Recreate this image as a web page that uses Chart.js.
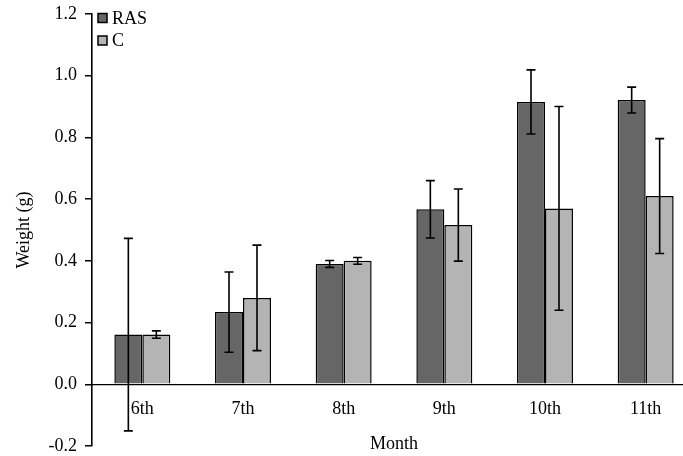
<!DOCTYPE html>
<html>
<head>
<meta charset="utf-8">
<script src="https://cdn.jsdelivr.net/npm/chart.js@4"></script>
<style>
  html, body { margin: 0; padding: 0; background: #ffffff; overflow: hidden; }
  #wrap { width: 720px; height: 456px; }
</style>
</head>
<body>
<div id="wrap"><canvas id="c" width="720" height="456"></canvas></div>
<script>
const categories = ['6th', '7th', '8th', '9th', '10th', '11th'];
const rasValues = [0.161, 0.234, 0.390, 0.567, 0.915, 0.921];
const rasErrors = [0.312, 0.130, 0.011, 0.093, 0.104, 0.042];
const cValues = [0.161, 0.280, 0.400, 0.516, 0.570, 0.610];
const cErrors = [0.012, 0.171, 0.011, 0.117, 0.330, 0.186];
const yTicks = [-0.2, 0.0, 0.2, 0.4, 0.6, 0.8, 1.0, 1.2];

Chart.defaults.font.family = "'Liberation Serif', 'Times New Roman', serif";
Chart.defaults.font.size = 18;
Chart.defaults.color = '#000000';

const errorBarPlugin = {
  id: 'errorBars',
  afterDatasetsDraw(chart) {
    const ctx = chart.ctx;
    const yScale = chart.scales.y;
    ctx.save();
    ctx.strokeStyle = '#000000';
    ctx.lineWidth = 1.6;
    chart.data.datasets.forEach((ds, di) => {
      const meta = chart.getDatasetMeta(di);
      meta.data.forEach((bar, i) => {
        const v = ds.data[i];
        const e = ds.errors[i];
        const x = bar.x;
        const yTop = yScale.getPixelForValue(v + e);
        const yBot = yScale.getPixelForValue(v - e);
        const cap = 4.5;
        ctx.beginPath();
        ctx.moveTo(x, yTop); ctx.lineTo(x, yBot);
        ctx.moveTo(x - cap, yTop); ctx.lineTo(x + cap, yTop);
        ctx.moveTo(x - cap, yBot); ctx.lineTo(x + cap, yBot);
        ctx.stroke();
      });
    });
    ctx.restore();
  }
};

const legendPlugin = {
  id: 'insideLegend',
  afterDraw(chart) {
    const ctx = chart.ctx;
    ctx.save();
    const x0 = chart.chartArea.left + 6;
    const rows = [18, 40.5];
    chart.data.datasets.forEach((ds, di) => {
      const yc = rows[di];
      ctx.fillStyle = ds.backgroundColor;
      ctx.fillRect(x0, yc - 4.5, 9, 9);
      ctx.strokeStyle = '#000000';
      ctx.lineWidth = 1.5;
      ctx.strokeRect(x0, yc - 4.5, 9, 9);
      ctx.fillStyle = '#000000';
      ctx.font = "18px 'Liberation Serif', 'Times New Roman', serif";
      ctx.textAlign = 'left';
      ctx.textBaseline = 'middle';
      ctx.fillText(ds.label, x0 + 14, yc + 1);
    });
    ctx.restore();
  }
};

new Chart(document.getElementById('c'), {
  type: 'bar',
  data: {
    labels: categories,
    datasets: [
      { label: 'RAS', data: rasValues, errors: rasErrors, backgroundColor: '#666666', borderColor: '#000000', borderWidth: 1.5 },
      { label: 'C', data: cValues, errors: cErrors, backgroundColor: '#b4b4b4', borderColor: '#000000', borderWidth: 1.5 }
    ]
  },
  options: {
    responsive: false,
    animation: false,
    devicePixelRatio: 1,
    layout: { padding: { left: 9, top: 14, right: 24, bottom: 10 } },
    datasets: { bar: { barPercentage: 1.0, categoryPercentage: 0.556 } },
    plugins: { legend: { display: false }, tooltip: { enabled: false } },
    scales: {
      x: {
        position: { y: 0 },
        grid: { display: false },
        border: { display: true, color: '#000000', width: 1.2 },
        ticks: { padding: 6, font: { size: 18 }, color: '#000000', maxRotation: 0 },
        title: { display: true, text: 'Month', font: { size: 18 }, color: '#000000' },
        afterFit(scale) {
          scale.height = 74.5;
          scale.paddingLeft = 0; scale.paddingRight = 0;
          scale.paddingTop = 0; scale.paddingBottom = 0;
        }
      },
      y: {
        min: -0.2,
        max: 1.2,
        afterBuildTicks(scale) { scale.ticks = yTicks.map(v => ({ value: v })); },
        grid: { display: true, drawOnChartArea: false, drawTicks: true, tickLength: 7, color: '#000000', lineWidth: 1.5 },
        border: { display: true, color: '#000000', width: 1.6 },
        ticks: { padding: 8, font: { size: 18 }, color: '#000000', callback: v => Number(v).toFixed(1) },
        title: { display: true, text: 'Weight (g)', font: { size: 18 }, color: '#000000' },
        afterFit(scale) {
          scale.width = 83;
          scale.paddingTop = 0; scale.paddingBottom = 0;
          scale.paddingLeft = 0; scale.paddingRight = 0;
        }
      }
    }
  },
  plugins: [errorBarPlugin, legendPlugin]
});
</script>
</body>
</html>
